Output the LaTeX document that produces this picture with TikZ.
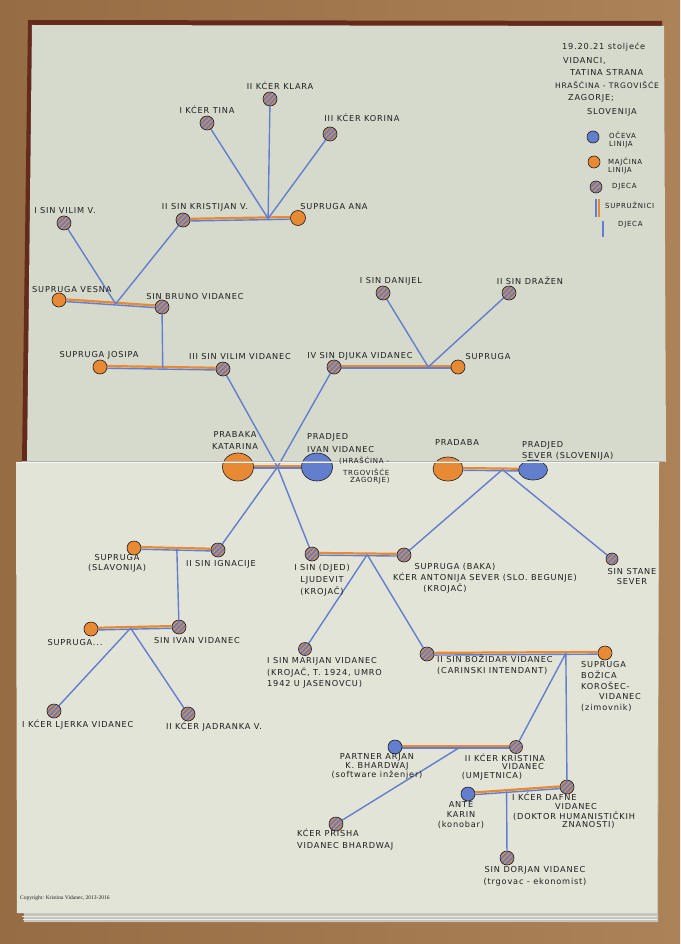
\documentclass[tikz,border=0pt]{standalone}
\usepackage{fontspec}
\setmainfont{DejaVu Sans}[LetterSpace=10]
\newfontfamily\cfont{Liberation Serif}
\usetikzlibrary{shapes.geometric,calc}
\pgfdeclarelayer{paper}
\pgfdeclarelayer{lines}
\pgfsetlayers{paper,lines,main}
\definecolor{woodA}{RGB}{150,108,68}
\definecolor{woodB}{RGB}{172,130,88}
\definecolor{covercol}{RGB}{100,42,28}
\definecolor{paperA}{RGB}{214,218,205}
\definecolor{paperB}{RGB}{226,228,216}
\definecolor{stackcol}{RGB}{196,196,186}
\definecolor{pblue}{RGB}{98,126,204}
\definecolor{porange}{RGB}{232,138,52}
\definecolor{ink}{RGB}{30,30,30}
\tikzset{
  person/.style={circle, draw=ink, line width=0.6pt, minimum size=14pt, inner sep=0pt},
  fem/.style={person, fill=porange},
  mal/.style={person, fill=pblue},
  kid/.style={person, fill=porange, path picture={
      \foreach \d in {-10,-5,0,5,10}{
        \draw[pblue, line width=1.8pt] (path picture bounding box.center) ++(\d pt,0pt) ++(-10pt,-10pt) -- ++(20pt,20pt);}}},
  big/.style={ellipse, draw=ink, line width=0.6pt, inner sep=0pt},
  txt/.style={text=ink, font=\fontsize{8.2}{10}\selectfont, inner sep=0pt, align=center},
  small/.style={text=ink, font=\fontsize{7}{8}\selectfont, inner sep=0pt, align=left},
  kidline/.style={pblue, line width=1.4pt},
}
\newcommand\spouseline[2]{%
  \draw[porange, line width=2.2pt, transform canvas={yshift=1.1pt}] (#1) -- (#2);
  \draw[pblue, line width=1.4pt, transform canvas={yshift=-1.1pt}] (#1) -- (#2);}
\begin{document}
\begin{tikzpicture}[x=1pt,y=-1pt]
\useasboundingbox (0,0) rectangle (680,944);
\begin{pgfonlayer}{paper}
  \shade[left color=woodA, right color=woodB] (0,0) rectangle (680,944);
  \fill[covercol] (28,20) -- (662,21) -- (665,462) -- (22,462) -- cycle;
  \fill[paperA] (32,25) -- (664,26) -- (666,462) -- (27,462) -- cycle;
  \fill[stackcol] (20,462) -- (659,462) -- (658,922) -- (24,922) -- cycle;
  \fill[paperB] (16,462) -- (659,462) -- (657,913) -- (17,913) -- cycle;
  \draw[white!85!gray, line width=0.6pt] (22,916) -- (657,916);
  \draw[white!85!gray, line width=0.6pt] (23,919) -- (657,919);
\end{pgfonlayer}

% ---------- persons ----------
\node[kid] (klara) at (270,99) {};
\node[kid] (tina) at (207,123) {};
\node[kid] (korina) at (330,134) {};
\node[kid] (kristijan) at (183,220) {};
\node[fem, minimum size=15pt] (ana) at (298,218) {};
\node[kid] (vilimv) at (64,223) {};
\node[fem] (vesna) at (59,300) {};
\node[kid] (bruno) at (162,307) {};
\node[fem] (josipa) at (100,367) {};
\node[kid] (vilim) at (223,369) {};
\node[kid] (danijel) at (383,293) {};
\node[kid] (drazen) at (509,293) {};
\node[kid] (djuka) at (334,367) {};
\node[fem] (supdj) at (458,367) {};
\node[big, fill=porange, minimum width=31pt, minimum height=28pt] (katarina) at (238,467) {};
\node[big, fill=pblue, minimum width=31pt, minimum height=28pt] (ivan) at (317,467) {};
\node[big, fill=porange, minimum width=30pt, minimum height=24pt] (pradaba) at (448,469) {};
\node[big, fill=pblue, minimum width=29pt, minimum height=20pt] (sever) at (533,470) {};
\node[fem] (supslav) at (134,548) {};
\node[kid] (ignacije) at (218,550) {};
\node[kid] (ljudevit) at (312,554) {};
\node[kid] (antonija) at (404,555) {};
\node[kid, minimum size=12pt] (stane) at (612,559) {};
\node[fem] (supdots) at (91,629) {};
\node[kid] (ivanv) at (179,627) {};
\node[kid] (ljerka) at (54,711) {};
\node[kid] (jadranka) at (188,714) {};
\node[kid, minimum size=13pt] (marijan) at (305,649) {};
\node[kid] (bozidar) at (427,654) {};
\node[fem] (bozica) at (605,653) {};
\node[mal] (arjan) at (395,747) {};
\node[kid, minimum size=13pt] (kristina) at (516,747) {};
\node[kid] (prisha) at (336,824) {};
\node[mal] (ante) at (468,794) {};
\node[kid] (dafne) at (567,787) {};
\node[kid] (dorjan) at (507,858) {};

% ---------- junctions ----------
\coordinate (j1) at ($(kristijan)!0.74!(ana)$);
\coordinate (j2) at ($(vesna)!0.55!(bruno)$);
\coordinate (j3) at ($(josipa)!0.51!(vilim)$);
\coordinate (j4) at ($(djuka)!0.76!(supdj)$);
\coordinate (j5) at ($(katarina)!0.5!(ivan)$);
\coordinate (j6) at ($(pradaba)!0.64!(sever)$);
\coordinate (j7) at ($(supslav)!0.51!(ignacije)$);
\coordinate (j8) at ($(supdots)!0.45!(ivanv)$);
\coordinate (j9) at ($(ljudevit)!0.6!(antonija)$);
\coordinate (j10) at ($(bozidar)!0.78!(bozica)$);
\coordinate (j11) at ($(arjan)!0.54!(kristina)$);
\coordinate (j12) at ($(ante)!0.39!(dafne)$);

\begin{pgfonlayer}{lines}
  \spouseline{kristijan}{ana}
  \spouseline{vesna}{bruno}
  \spouseline{josipa}{vilim}
  \spouseline{djuka}{supdj}
  \spouseline{katarina}{ivan}
  \spouseline{pradaba}{sever}
  \spouseline{supslav}{ignacije}
  \spouseline{supdots}{ivanv}
  \spouseline{ljudevit}{antonija}
  \spouseline{bozidar}{bozica}
  \spouseline{arjan}{kristina}
  \spouseline{ante}{dafne}
  \draw[kidline] (j1) -- (tina);
  \draw[kidline] (j1) -- (klara);
  \draw[kidline] (j1) -- (korina);
  \draw[kidline] (j2) -- (vilimv);
  \draw[kidline] (j2) -- (kristijan);
  \draw[kidline] (j3) -- (bruno);
  \draw[kidline] (j4) -- (danijel);
  \draw[kidline] (j4) -- (drazen);
  \draw[kidline] (j5) -- (vilim);
  \draw[kidline] (j5) -- (djuka);
  \draw[kidline] (j5) -- (ignacije);
  \draw[kidline] (j5) -- (ljudevit);
  \draw[kidline] (j6) -- (antonija);
  \draw[kidline] (j6) -- (stane);
  \draw[kidline] (j7) -- (ivanv);
  \draw[kidline] (j8) -- (ljerka);
  \draw[kidline] (j8) -- (jadranka);
  \draw[kidline] (j9) -- (marijan);
  \draw[kidline] (j9) -- (bozidar);
  \draw[kidline] (j10) -- (kristina);
  \draw[kidline] (j10) -- (dafne);
  \draw[kidline] (j11) -- (prisha);
  \draw[kidline] (j12) -- (dorjan);
\end{pgfonlayer}

% fold of the notebook
\draw[black!30, line width=0.5pt] (22,461.3) -- (665,461.3);
\draw[white!92!gray, line width=0.9pt] (16,462.6) -- (659,462.6);

% ---------- labels ----------
\node[txt] (tklara) at (280,86) {II KĆER KLARA};
\node[txt] (ttina) at (207,110) {I KĆER TINA};
\node[txt] (tkorina) at (362,118) {III KĆER KORINA};
\node[txt] (tkristijan) at (205,207) {II SIN KRISTIJAN V.};
\node[txt] (tana) at (334,207) {SUPRUGA ANA};
\node[txt] (tvilimv) at (65,211) {I SIN VILIM V.};
\node[txt, anchor=west] (tvesna) at (32,290) {SUPRUGA VESNA};
\node[txt] (tbruno) at (195,297) {SIN BRUNO VIDANEC};
\node[txt] (tjosipa) at (99,355) {SUPRUGA JOSIPA};
\node[txt] (tvilim) at (240,357) {III SIN VILIM VIDANEC};
\node[txt] (tdanijel) at (391,281) {I SIN DANIJEL};
\node[txt] (tdrazen) at (530,281) {II SIN DRAŽEN};
\node[txt] (tdjuka) at (360,356) {IV SIN DJUKA VIDANEC};
\node[txt] (tsupdj) at (488,357) {SUPRUGA};
\node[txt, font=\fontsize{8.2}{12}\selectfont] (tkatarina) at (235,441) {PRABAKA\\KATARINA};
\node[txt, align=left, anchor=west, font=\fontsize{8.2}{13}\selectfont] (tivan) at (307,443.5) {PRADJED\\IVAN VIDANEC};
\node[txt, anchor=west, font=\fontsize{7}{8}\selectfont] (tivan2) at (339,461) {(HRAŠĆINA -};
\node[txt, anchor=west, font=\fontsize{7}{8}\selectfont] (tivan3) at (343,472) {TRGOVIŠĆE};
\node[txt, anchor=west, font=\fontsize{7}{8}\selectfont] (tivan4) at (350,481) {ZAGORJE)};
\node[txt] (tpradaba) at (457,443) {PRADABA};
\node[txt, align=left, anchor=west, font=\fontsize{8.2}{11}\selectfont] (tsever) at (522,450.5) {PRADJED\\SEVER (SLOVENIJA)};
\node[txt] (tslav) at (117,563) {SUPRUGA\\(SLAVONIJA)};
\node[txt] (tignacije) at (221,564) {II SIN IGNACIJE};
\node[txt, font=\fontsize{8.2}{12}\selectfont] (tljudevit) at (322,580) {I SIN (DJED)\\LJUDEVIT\\(KROJAČ)};
\node[txt] (tant1) at (455,567) {SUPRUGA (BAKA)};
\node[txt] (tant2) at (485,578) {KĆER ANTONIJA SEVER (SLO. BEGUNJE)};
\node[txt] (tant3) at (445,589) {(KROJAČ)};
\node[txt] (tstane) at (632,577) {SIN STANE\\SEVER};
\node[txt] (tsupdots) at (75,643) {SUPRUGA...};
\node[txt] (tivanv) at (197,641) {SIN IVAN VIDANEC};
\node[txt, anchor=west] (tljerka) at (22,725) {I KĆER LJERKA VIDANEC};
\node[txt] (tjadranka) at (214,727) {II KĆER JADRANKA V.};
\node[txt, align=left, anchor=west, font=\fontsize{8.2}{11.5}\selectfont] (tmarijan) at (267,673) {I SIN MARIJAN VIDANEC\\(KROJAČ, T. 1924, UMRO\\1942 U JASENOVCU)};
\node[txt, align=left, anchor=west, font=\fontsize{8.2}{11}\selectfont] (tbozidar) at (437,664.5) {II SIN BOŽIDAR VIDANEC\\(CARINSKI INTENDANT)};
\node[txt, align=left, anchor=west, font=\fontsize{8.2}{10.7}\selectfont] (tbozica) at (581,686.5) {SUPRUGA\\BOŽICA\\KOROŠEC-\\\hspace*{18pt}VIDANEC\\(zimovnik)};
\node[txt, font=\fontsize{8.2}{9}\selectfont] (tarjan) at (377,766) {PARTNER ARJAN\\K. BHARDWAJ\\(software inženjer)};
\node[txt] (tkri1) at (505,758) {II KĆER KRISTINA};
\node[txt] (tkri2) at (523,767) {VIDANEC};
\node[txt] (tkri3) at (492,776) {(UMJETNICA)};
\node[txt, align=left, anchor=west, font=\fontsize{8.2}{12}\selectfont] (tprisha) at (297,839.5) {KĆER PRISHA\\VIDANEC BHARDWAJ};
\node[txt, font=\fontsize{8.2}{10}\selectfont] (tante) at (461,815) {ANTE\\KARIN\\(konobar)};
\node[txt, anchor=west] (tdaf1) at (512,797) {I KĆER DAFNE};
\node[txt, anchor=west] (tdaf2) at (555,807) {VIDANEC};
\node[txt, anchor=west] (tdaf3) at (513,816) {(DOKTOR HUMANISTIČKIH};
\node[txt, anchor=west] (tdaf4) at (562,825) {ZNANOSTI)};
\node[txt, font=\fontsize{8.2}{12}\selectfont] (tdorjan) at (535,876) {SIN DORJAN VIDANEC\\(trgovac - ekonomist)};

% ---------- legend ----------
\node[txt, anchor=west] (lg1) at (562,47) {19.20.21 stoljeće};
\node[txt, anchor=west] (lg2) at (563,61) {VIDANCI,};
\node[txt, anchor=west] (lg3) at (570,73) {TATINA STRANA};
\node[txt, anchor=west, font=\fontsize{7.6}{8}\selectfont] (lg4) at (555,85) {HRAŠĆINA - TRGOVIŠĆE};
\node[txt, anchor=west] (lg5) at (568,98) {ZAGORJE;};
\node[txt, anchor=west] (lg6) at (587,112) {SLOVENIJA};
\node[mal, minimum size=12pt] (lgblue) at (593,137) {};
\node[small, anchor=west] (lgtblue) at (609,139.5) {OČEVA\\LINIJA};
\node[fem, minimum size=12pt] (lgorange) at (594,162) {};
\node[small, anchor=west] (lgtorange) at (608,165.5) {MAJČINA\\LINIJA};
\node[kid, minimum size=12pt] (lgkid) at (596,187) {};
\node[small, anchor=west] (lgtkid) at (612,187) {DJECA};
\coordinate (lgsa) at (596,199);
\coordinate (lgsb) at (596,217);
\coordinate (lgsc) at (599,199);
\coordinate (lgsd) at (599,217);
\draw[pblue, line width=1.3pt] (lgsa) -- (lgsb);
\draw[porange, line width=1.5pt] (lgsc) -- (lgsd);
\node[small, anchor=west] (lgtspouse) at (605,205) {SUPRUŽNICI};
\coordinate (lgca) at (603,221);
\coordinate (lgcb) at (603,237);
\draw[pblue, line width=1.3pt] (lgca) -- (lgcb);
\node[small, anchor=west] (lgtchild) at (618,225) {DJECA};

% ---------- copyright ----------
\node[text=ink, inner sep=0pt, anchor=west, font=\cfont\fontsize{5.5}{6}\selectfont] (copy) at (20,898) {Copyright: Kristina Vidanec, 2013-2016};
\end{tikzpicture}
\end{document}
